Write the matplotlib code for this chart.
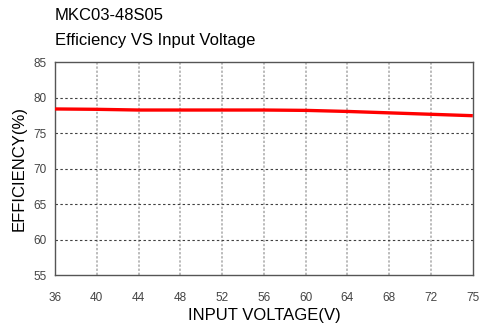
import numpy as np
import matplotlib
matplotlib.use("Agg")
import matplotlib.pyplot as plt

plt.rcParams['font.family'] = ['Liberation Sans', 'DejaVu Sans']

title_lines = ["MKC03-48S05", "Efficiency VS Input Voltage"]
tick_volts = [36, 40, 44, 48, 52, 56, 60, 64, 68, 72, 75]
tick_labels = [str(v) for v in tick_volts]
y_ticks = [55, 60, 65, 70, 75, 80, 85]

voltage = [36, 40, 44, 48, 52, 56, 60, 64, 66, 68, 70, 72, 73.5, 75]
efficiency = [78.4, 78.35, 78.25, 78.25, 78.25, 78.25, 78.2, 78.05, 77.95,
              77.85, 77.75, 77.65, 77.55, 77.45]

fig = plt.figure(figsize=(4.8, 3.27), dpi=100)
ax = fig.add_axes([0.1146, 0.159, 0.8704, 0.651])

tick_pos = np.arange(len(tick_volts))
xpos = np.interp(voltage, tick_volts, tick_pos)
ax.plot(xpos, efficiency, color='#ff0000', lw=2.4, solid_capstyle='butt', zorder=3)

ax.set_xlim(0, len(tick_volts) - 1)
ax.set_ylim(55, 85)
ax.set_xticks(tick_pos)
ax.set_xticklabels(tick_labels)
ax.set_yticks(y_ticks)

for p in tick_pos[1:-1]:
    ax.axvline(p, color='#a8a8a8', lw=1.1, ls=(0, (1.5, 1.2)), zorder=1)
for y in y_ticks[1:-1]:
    ax.axhline(y, color='#404040', lw=0.8, ls=(0, (2.2, 2.2)), zorder=1)

for s in ax.spines.values():
    s.set_color('#555555')
    s.set_linewidth(1.0)

ax.tick_params(length=0, labelsize=8.5, labelcolor='#444444', pad=6)
ax.tick_params(axis='x', pad=12)

ax.set_xlabel("INPUT VOLTAGE(V)", fontsize=12, labelpad=3)
ax.set_ylabel("EFFICIENCY(%)", fontsize=12, labelpad=5)

fig.text(55/480, 1 - 16/327, title_lines[0], fontsize=12, va='center', ha='left')
fig.text(55/480, 1 - 41/327, title_lines[1], fontsize=12, va='center', ha='left')

fig.savefig("out.png", dpi=100)
